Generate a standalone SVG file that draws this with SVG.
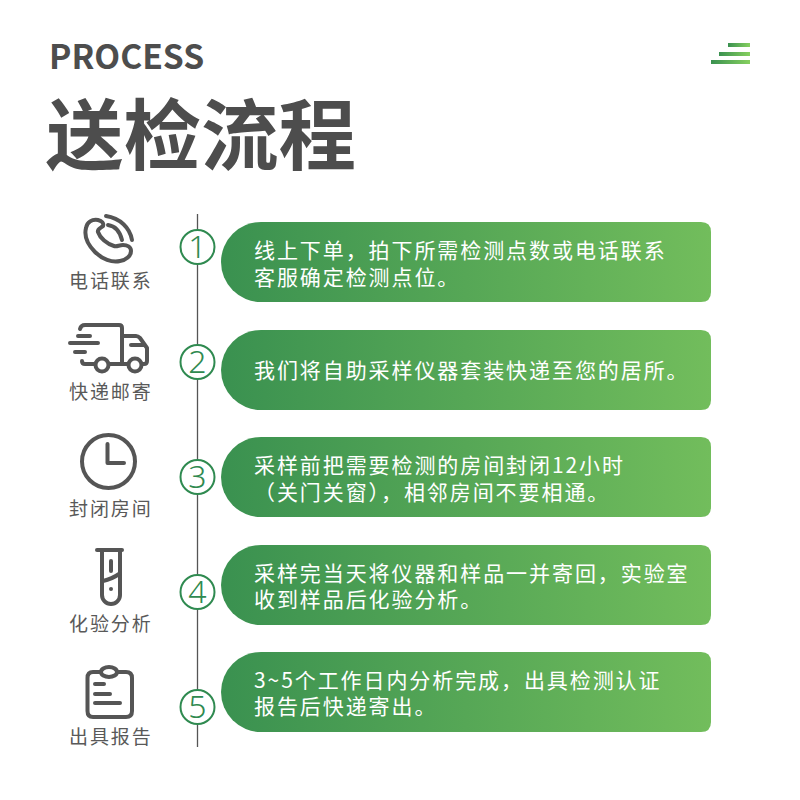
<svg xmlns="http://www.w3.org/2000/svg" width="800" height="800" viewBox="0 0 800 800">
<defs>
<linearGradient id="g" x1="0" y1="0" x2="1" y2="0"><stop offset="0" stop-color="#3a9150"/><stop offset="1" stop-color="#72bd5c"/></linearGradient>
<linearGradient id="b" x1="0" y1="0" x2="1" y2="0"><stop offset="0" stop-color="#3a9150"/><stop offset="1" stop-color="#86d05f"/></linearGradient>
<path id="pill" d="M261 0H701Q711 0 711 10V70Q711 80 701 80H261A40 40 0 0 1 261 0Z"/>
</defs>
<style>
text{font-family:"Noto Sans CJK SC","Noto Sans",sans-serif}
.t{font-size:21px;letter-spacing:1.92px;fill:#fff}
.l{font-size:19px;letter-spacing:1.9px;fill:#595959}
.n{font-size:32px;fill:#2f8a50;text-anchor:middle;font-family:"Noto Sans","Noto Sans CJK SC",sans-serif;font-weight:300}
.c{fill:#fff;stroke:#2f8a50;stroke-width:2}
.i{fill:none;stroke:#555;stroke-width:4;stroke-linecap:round;stroke-linejoin:round}
.p{fill:url(#g)}
</style>
<rect width="800" height="800" fill="#fff"/>
<g id="header">
<text x="49" y="69" font-size="33.600" font-weight="700" fill="#4d4d4d">PROCESS</text>
<text x="46" y="164" font-size="77.500" font-weight="700" fill="#4d4d4d">送检流程</text>
<rect x="728" y="43" width="22" height="4" fill="url(#b)"/>
<rect x="719" y="52" width="31" height="4" fill="url(#b)"/>
<rect x="711" y="60" width="39" height="4" fill="url(#b)"/>
</g>
<g id="connectors"><line x1="197.500" y1="214" x2="197.500" y2="747" stroke="#555" stroke-width="1.300"/></g>
<g id="step1">
<g class="i"><path d="M98 220C92 219 87 222 86 228C84 236 88 245 95 252C102 259 112 263 120 261C126 260 131 256 131 251C131 247 127 245 123 245C119 245 117 247 114 246C107 244 100 238 98 232C97 229 101 228 103 226C104 223 102 221 98 220Z"/><path d="M108 225C115 226 120 232 122 240"/><path d="M106 216C120 218 130 228 132 240"/></g>
<text class="l" x="69" y="288">电话联系</text>
<circle class="c" cx="197.500" cy="247" r="17"/><text class="n" x="197.500" y="258">1</text>
<use href="#pill" y="222" class="p"/>
<text class="t" x="254" y="258">线上下单，拍下所需检测点数或电话联系</text>
<text class="t" x="254" y="285">客服确定检测点位。</text>
</g>
<g id="step2">
<g class="i"><path d="M80 329Q81 325 85 325H119Q122 325 122 328V364H109M95 364H85Q82 364 82 361"/><path d="M123 336H136Q138 336 140 338L147 348V361Q147 364 144 364H142M122 364H128M131 345H145"/><circle cx="102" cy="365" r="6.500"/><circle cx="135" cy="365" r="6.500"/><path d="M78 336H90M70 343H98M75 352H85"/></g>
<text class="l" x="69" y="399">快递邮寄</text>
<circle class="c" cx="197.500" cy="362" r="17"/><text class="n" x="197.500" y="373">2</text>
<use href="#pill" y="330" class="p"/>
<text class="t" x="254" y="378">我们将自助采样仪器套装快递至您的居所。</text>
</g>
<g id="step3">
<g class="i"><circle cx="108.500" cy="461.500" r="26.500"/><path d="M107.500 444V463H124"/></g>
<text class="l" x="69" y="516">封闭房间</text>
<circle class="c" cx="197.500" cy="477" r="17"/><text class="n" x="197.500" y="488">3</text>
<use href="#pill" y="437" class="p"/>
<text class="t" x="254" y="473">采样前把需要检测的房间封闭12小时</text>
<text class="t" x="254" y="500">（关门关窗），相邻房间不要相通。</text>
</g>
<g id="step4">
<g class="i"><path d="M97 550H122"/><path d="M102 551V595A9 9 0 0 0 120 595V551"/><path d="M103 581Q112 579 119 574"/><path d="M111 561V571"/></g>
<circle cx="111" cy="589" r="2" fill="#555"/>
<text class="l" x="69" y="631">化验分析</text>
<circle class="c" cx="197.500" cy="592" r="17"/><text class="n" x="197.500" y="603">4</text>
<use href="#pill" y="545" class="p"/>
<text class="t" x="254" y="581">采样完当天将仪器和样品一并寄回，实验室</text>
<text class="t" x="254" y="607">收到样品后化验分析。</text>
</g>
<g id="step5">
<g class="i"><path d="M100 672H93Q87.500 672 87.500 678V711Q87.500 717 93 717H126Q132 717 132 711V678Q132 672 126 672H118"/><ellipse cx="109" cy="672" rx="8" ry="5"/><path d="M95 684H104M95 694H110M95 703H120"/></g>
<text class="l" x="69" y="744">出具报告</text>
<circle class="c" cx="197.500" cy="707" r="17"/><text class="n" x="197.500" y="718">5</text>
<use href="#pill" y="652" class="p"/>
<text class="t" x="254" y="688">3~5个工作日内分析完成，出具检测认证</text>
<text class="t" x="254" y="714">报告后快递寄出。</text>
</g>
</svg>
